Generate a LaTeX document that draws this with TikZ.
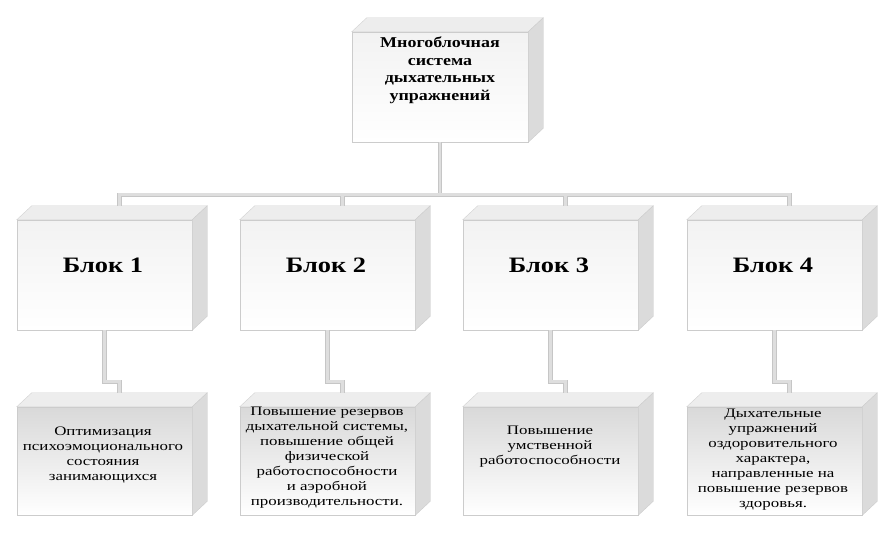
\documentclass[tikz,border=0pt]{standalone}
\usepackage{fontspec}
\setmainfont{Liberation Serif}
\newfontfamily\widefont[FakeStretch=1.2]{Liberation Serif}
\newfontfamily\widerfont[FakeStretch=1.3]{Liberation Serif}
\newcommand\cubefaces[1]{%
  \filldraw[topface] (#1.north west) -- ([shift={(15,-14)}]#1.north west) -- ([shift={(15,-14)}]#1.north east) -- (#1.north east) -- cycle;
  \filldraw[sideface] (#1.north east) -- ([shift={(15,-14)}]#1.north east) -- ([shift={(15,-14)}]#1.south east) -- (#1.south east) -- cycle;}
\begin{document}
\begin{tikzpicture}[x=1pt,y=-1pt,
  front/.style={rectangle, draw=gray!40, line width=0.5pt, minimum width=175pt, minimum height=110pt, inner sep=0pt, top color=gray!10, bottom color=white},
  lowfront/.style={front, minimum height=108pt, top color=gray!30, bottom color=white},
  topface/.style={fill=gray!14, draw=gray!35, line width=0.4pt},
  sideface/.style={fill=gray!28, draw=gray!40, line width=0.4pt},
  connout/.style={draw=gray!45, line width=4.4pt},
  connin/.style={draw=gray!26, line width=2.6pt},
  headtxt/.style={font=\widefont\bfseries\fontsize{22}{24}\selectfont, text=black},
  toptxt/.style={font=\widefont\bfseries\fontsize{15}{17.5}\selectfont, align=center, text=black},
  bottxt/.style={font=\widerfont\fontsize{13}{15}\selectfont, align=center, text=black}]
\useasboundingbox (0,0) rectangle (882,539);
\fill[white] (0,0) rectangle (882,539);

% front faces
\node[front, minimum width=176pt] (topbox) at (440,87) {};
\node[front] (b1) at (104.5,275) {};
\node[front] (b2) at (327.5,275) {};
\node[front] (b3) at (550.5,275) {};
\node[front] (b4) at (774.5,275) {};
\node[lowfront] (c1) at (104.5,461) {};
\node[lowfront] (c2) at (327.5,461) {};
\node[lowfront] (c3) at (550.5,461) {};
\node[lowfront] (c4) at (774.5,461) {};

\foreach \n in {topbox,b1,b2,b3,b4,c1,c2,c3,c4}{\cubefaces{\n}}

% connector ends on the back top edges
\foreach \n in {b1,b2,b3,b4,c1,c2,c3,c4}{\coordinate (\n in) at ([shift={(15,-14)}]\n.north);}

% connectors
\foreach \st in {connout,connin}{
  \draw[\st] (topbox.south) |- ([yshift=11pt]b1in) -- (b1in);
  \draw[\st] (topbox.south) |- ([yshift=11pt]b4in) -- (b4in);
  \draw[\st] ([yshift=11pt]b2in) -- (b2in);
  \draw[\st] ([yshift=11pt]b3in) -- (b3in);
  \draw[\st] (b1.south) |- ([yshift=11pt]c1in) -- (c1in);
  \draw[\st] (b2.south) |- ([yshift=11pt]c2in) -- (c2in);
  \draw[\st] (b3.south) |- ([yshift=11pt]c3in) -- (c3in);
  \draw[\st] (b4.south) |- ([yshift=11pt]c4in) -- (c4in);
}

% texts
\node[toptxt] (ttop) at (440,70) {Многоблочная\\система\\дыхательных\\упражнений};
\node[headtxt] (t1) at (103,265) {Блок 1};
\node[headtxt] (t2) at (326,265) {Блок 2};
\node[headtxt] (t3) at (549,265) {Блок 3};
\node[headtxt] (t4) at (773,265) {Блок 4};
\node[bottxt] (u1) at (103,455) {Оптимизация\\психоэмоционального\\состояния\\занимающихся};
\node[bottxt] (u2) at (327,458) {Повышение резервов\\дыхательной системы,\\повышение общей\\физической\\работоспособности\\и аэробной\\производительности.};
\node[bottxt] (u3) at (550,447) {Повышение\\умственной\\работоспособности};
\node[bottxt] (u4) at (773,460) {Дыхательные\\упражнений\\оздоровительного\\характера,\\направленные на\\повышение резервов\\здоровья.};
\end{tikzpicture}
\end{document}
